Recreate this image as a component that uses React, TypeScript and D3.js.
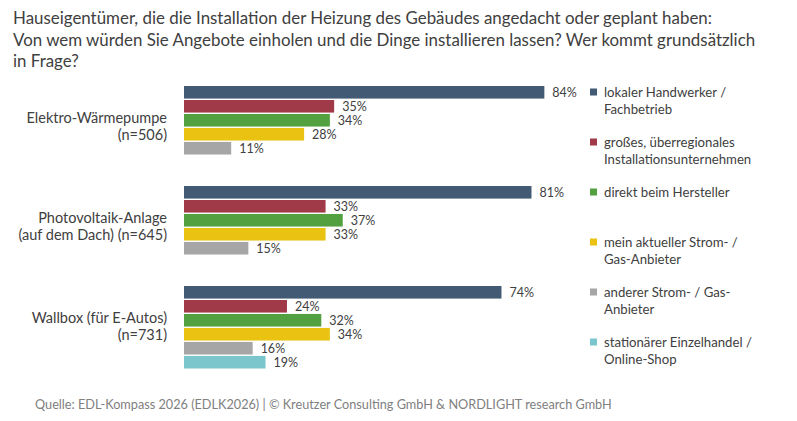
import React, { useEffect } from "react";
import * as d3 from "d3";

const titleLines = [
  "Hauseigentümer, die die Installation der Heizung des Gebäudes angedacht oder geplant haben:",
  "Von wem würden Sie Angebote einholen und die Dinge installieren lassen? Wer kommt grundsätzlich",
  "in Frage?",
];

const categories = ["Elektro-Wärmepumpe", "Photovoltaik-Anlage", "Wallbox (für E-Autos)"];
const categoryLines = [
  ["Elektro-Wärmepumpe", "(n=506)"],
  ["Photovoltaik-Anlage", "(auf dem Dach) (n=645)"],
  ["Wallbox (für E-Autos)", "(n=731)"],
];

const series = ["lokal", "gross", "hersteller", "aktuell", "anderer", "handel"];
const seriesLabels = [
  ["lokaler Handwerker /", "Fachbetrieb"],
  ["großes, überregionales", "Installationsunternehmen"],
  ["direkt beim Hersteller"],
  ["mein aktueller Strom- /", "Gas-Anbieter"],
  ["anderer Strom- / Gas-", "Anbieter"],
  ["stationärer Einzelhandel /", "Online-Shop"],
];
const colors = ["#435a75", "#a03a48", "#52a03f", "#e9c212", "#a6a6a6", "#7ac6cc"];

// one array per category, null = not asked
const waermepumpe = [84, 35, 34, 28, 11, null];
const photovoltaik = [81, 33, 37, 33, 15, null];
const wallbox = [74, 24, 32, 34, 16, 19];
const values = [waermepumpe, photovoltaik, wallbox];

const source =
  "Quelle: EDL-Kompass 2026 (EDLK2026) | © Kreutzer Consulting GmbH & NORDLIGHT research GmbH";

const font = "Lato, 'Open Sans', sans-serif";
const textColor = "#404040";

export default function App() {
  useEffect(() => {
    document.body.style.margin = "0";
  }, []);

  const width = 797;
  const height = 421;

  const x = d3.scaleLinear().domain([0, 100]).range([184, 613]);
  const y0 = d3.scaleBand().domain(categories).range([86, 368.5]).paddingInner(0.175).paddingOuter(0);
  const y1 = d3.scaleBand().domain(series).range([0, y0.bandwidth()]).paddingInner(0.1);
  const legendY = d3.scalePoint().domain(series).range([92, 342]);

  return (
    <svg width={width} height={height} style={{ display: "block", background: "#fff" }} fontFamily={font}>
      {titleLines.map((t, i) => (
        <text key={i} x={13} y={24 + i * 21.5} fontSize={16.9} fill={textColor}>
          {t}
        </text>
      ))}

      {categories.map((c, ci) => {
        const top = y0(c) as number;
        const mid = top + y0.bandwidth() / 2;
        return (
          <g key={c}>
            {categoryLines[ci].map((l, li) => (
              <text key={li} x={167} y={mid - 4 + li * 17} textAnchor="end" fontSize={14.5} fill={textColor}>
                {l}
              </text>
            ))}
            {values[ci].map((v, si) => {
              if (v == null) return null;
              const by = top + (y1(series[si]) as number);
              return (
                <g key={si}>
                  <rect x={x(0)} y={by} width={x(v) - x(0)} height={y1.bandwidth()} fill={colors[si]} />
                  <text
                    x={x(v) + 8}
                    y={by + y1.bandwidth() / 2}
                    dy="0.35em"
                    fontSize={12.5}
                    fill={textColor}
                  >
                    {v}%
                  </text>
                </g>
              );
            })}
          </g>
        );
      })}

      {series.map((s, si) => {
        const ly = legendY(s) as number;
        return (
          <g key={s}>
            <rect x={590} y={ly - 3.5} width={7} height={7} fill={colors[si]} />
            {seriesLabels[si].map((l, li) => (
              <text key={li} x={604} y={ly + li * 17} dy="0.35em" fontSize={13.2} fill={textColor}>
                {l}
              </text>
            ))}
          </g>
        );
      })}

      <text x={35} y={409} fontSize={12.7} fill="#808080">
        {source}
      </text>
    </svg>
  );
}
